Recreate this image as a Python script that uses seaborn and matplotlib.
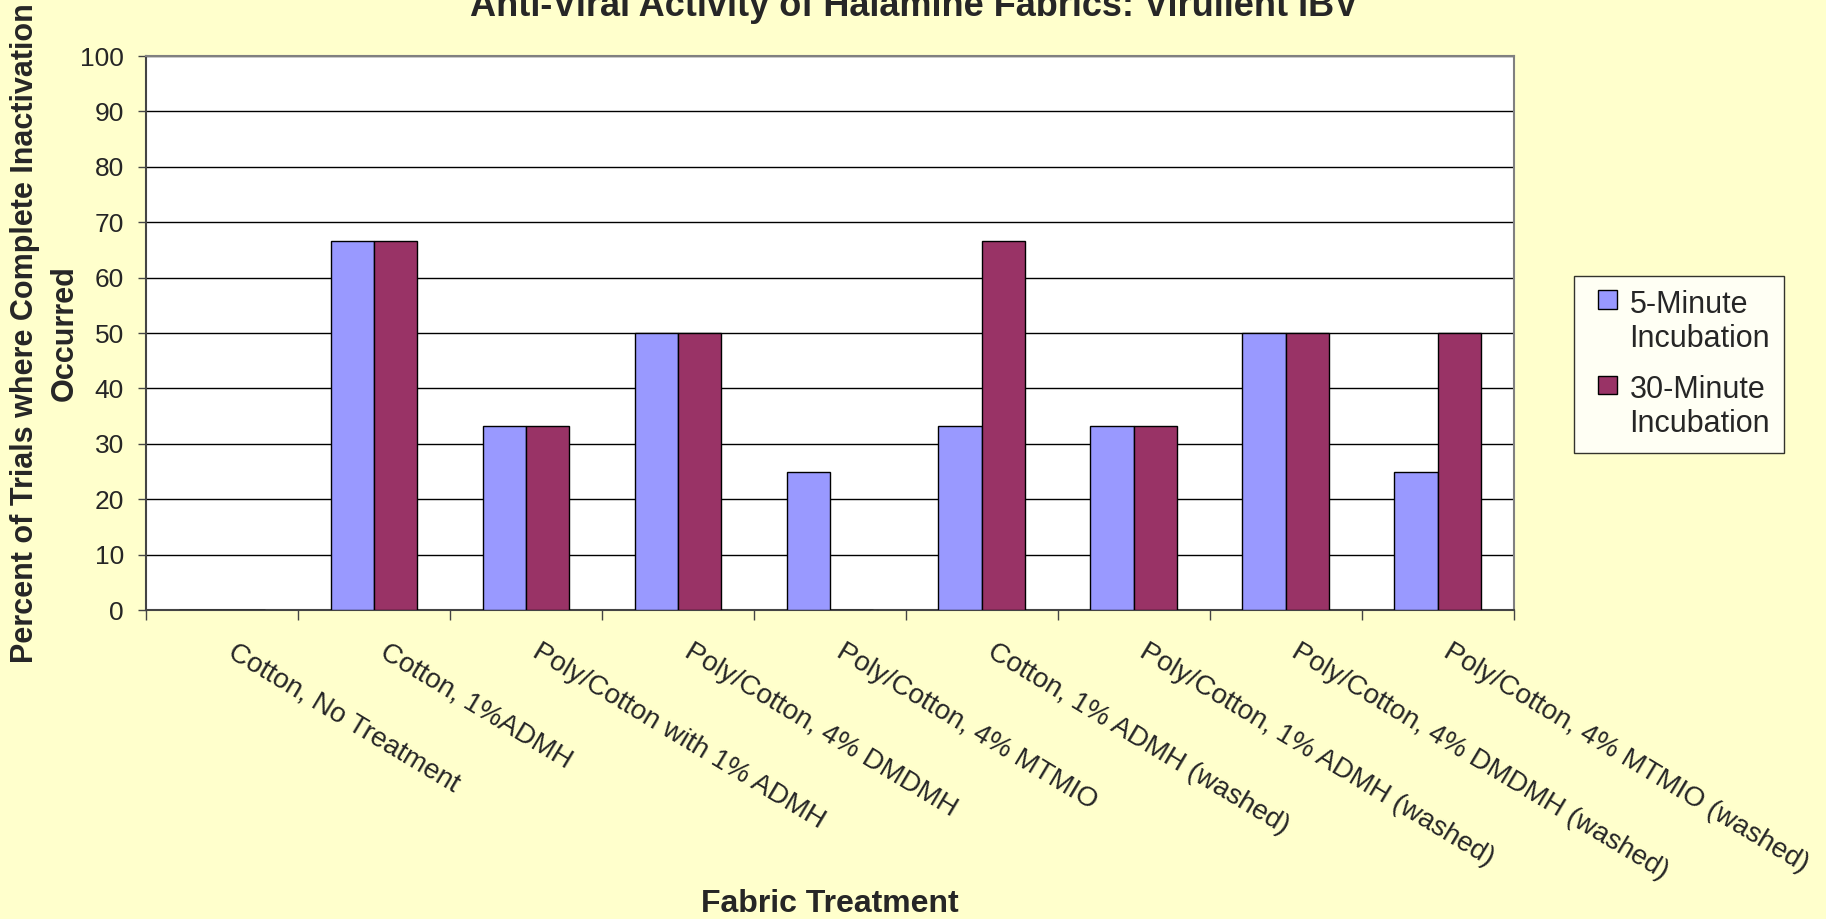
import pandas as pd
import matplotlib.pyplot as plt
import matplotlib.transforms as mtransforms
import seaborn as sns
from matplotlib.patches import Rectangle
from matplotlib.legend_handler import HandlerPatch

# Data
categories = ["Cotton, No Treatment", "Cotton, 1%ADMH", "Poly/Cotton with 1% ADMH",
              "Poly/Cotton, 4% DMDMH", "Poly/Cotton, 4% MTMIO", "Cotton, 1% ADMH (washed)",
              "Poly/Cotton, 1% ADMH (washed)", "Poly/Cotton, 4% DMDMH (washed)",
              "Poly/Cotton, 4% MTMIO (washed)"]
five_min = [0, 66.7, 33.3, 50, 25, 33.3, 33.3, 50, 25]
thirty_min = [0, 66.7, 33.3, 50, 0, 66.7, 33.3, 50, 50]
series = ["5-Minute\nIncubation", "30-Minute\nIncubation"]
colors = ["#9999FF", "#993366"]

df = pd.DataFrame({
    "category": categories * 2,
    "value": five_min + thirty_min,
    "series": [series[0]] * len(categories) + [series[1]] * len(categories),
})

sns.set_style("white")
plt.rcParams['font.family'] = ['Liberation Sans', 'DejaVu Sans']

fig = plt.figure(figsize=(18.26, 9.19), dpi=100, facecolor="#FFFFCC")
ax = fig.add_axes([0.080, 0.3362, 0.749, 0.6028])
ax.set_facecolor("white")

sns.barplot(x="category", y="value", hue="series", data=df, ax=ax,
            palette=colors, saturation=1, width=0.571,
            edgecolor="black", linewidth=1, zorder=3, legend=False)

ax.set_ylim(0, 100)
ax.set_xlim(-0.5, len(categories) - 0.5)
ax.set_yticks(range(0, 101, 10))
ax.yaxis.grid(True, color="black", linewidth=1, zorder=0)
ax.tick_params(axis="y", labelsize=19, length=6, width=1, color="#444444", direction="out", left=True, pad=10)

# x ticks at category boundaries, labels at category centres
ax.set_xticks([i + 0.5 for i in range(-1, len(categories))], minor=True)
ax.set_xticks(range(len(categories)))
ax.set_xticklabels(categories, rotation=-31, ha="left", va="top", rotation_mode="anchor", fontsize=20)
ax.tick_params(axis="x", which="major", length=0, pad=21)
ax.tick_params(axis="x", which="minor", length=7, width=1, color="#444444", direction="out", bottom=True)
shift = mtransforms.ScaledTranslation(15 / 100, 0, fig.dpi_scale_trans)
for lbl in ax.get_xticklabels():
    lbl.set_transform(lbl.get_transform() + shift)

for side in ["top", "right"]:
    ax.spines[side].set_color("#808080")
    ax.spines[side].set_linewidth(1.5)
for side in ["left", "bottom"]:
    ax.spines[side].set_color("#444444")
    ax.spines[side].set_linewidth(1.5)

ax.set_xlabel("")
ax.set_ylabel("")


# legend square sits next to the first line of each two-line label
def top_square(legend, orig_handle, xdescent, ydescent, width, height, fontsize):
    s = 0.62 * fontsize
    return Rectangle((-xdescent + width - s, -ydescent + height - s + 0.38 * fontsize), s, s)


handles = [Rectangle((0, 0), 1, 1, facecolor=c, edgecolor="black", linewidth=1) for c in colors]
leg = fig.legend(handles, series, loc="upper left",
                 bbox_to_anchor=(1574 / 1826, 1 - 276 / 919), bbox_transform=fig.transFigure,
                 borderaxespad=0, fontsize=22, frameon=True, fancybox=False, edgecolor="black",
                 handlelength=0.97, handleheight=1.8, handletextpad=0.4, borderpad=0.45,
                 labelspacing=0.67, handler_map={Rectangle: HandlerPatch(patch_func=top_square)})
leg.get_frame().set_linewidth(1)

fig.text(0.5005, 1 - 16 / 919, "Anti-Viral Activity of Halamine Fabrics: Virulient IBV",
         ha="center", va="baseline", fontsize=26, fontweight="bold")
fig.text(0.4545, 1 - 904 / 919, "Fabric Treatment", ha="center", va="center",
         fontsize=23, fontweight="bold")
fig.text(0.0245, 1 - 333 / 919, "Percent of Trials where Complete Inactivation\nOccurred",
         ha="center", va="center", rotation=90, fontsize=22, fontweight="bold", linespacing=1.45)

fig.savefig("out.png", dpi=100, facecolor=fig.get_facecolor())
